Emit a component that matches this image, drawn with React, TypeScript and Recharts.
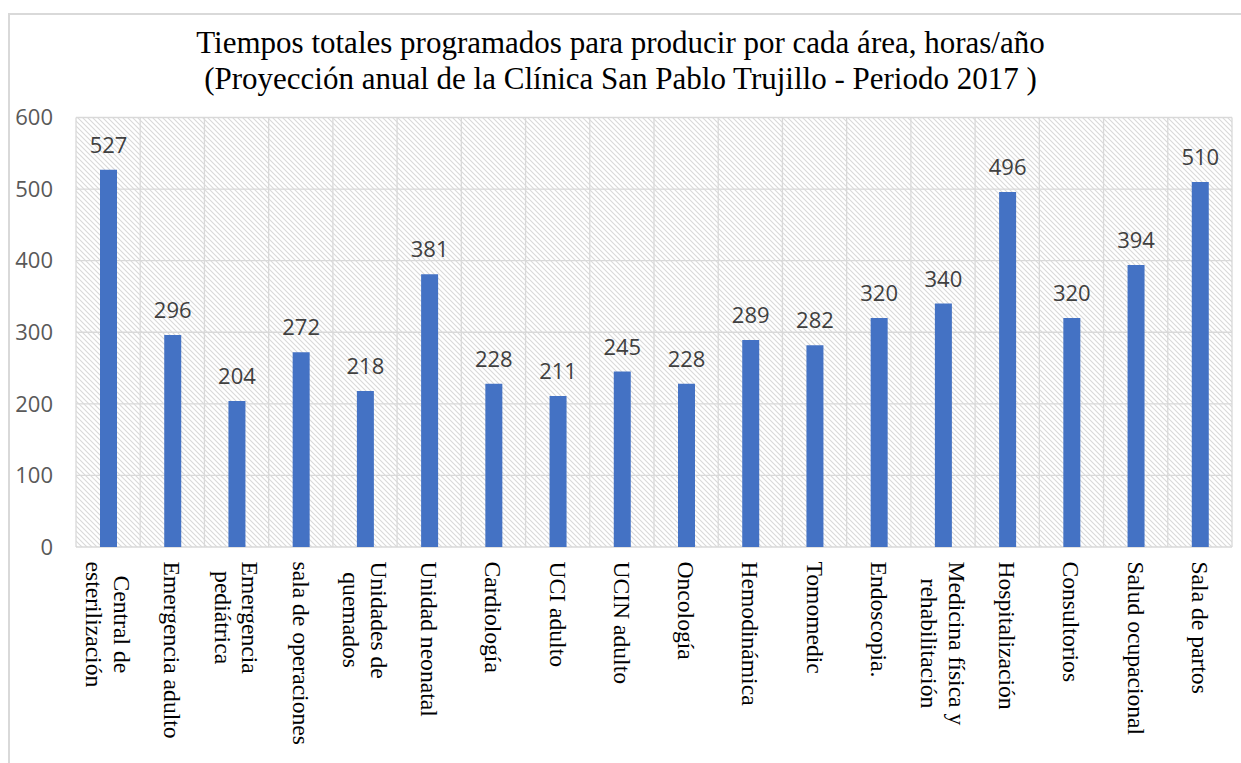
import React from "react";
import { BarChart, Bar, XAxis, YAxis, CartesianGrid, LabelList } from "recharts";

const categories = [
  "Central de\nesterilización",
  "Emergencia adulto",
  "Emergencia\npediátrica",
  "sala de operaciones",
  "Unidades de\nquemados",
  "Unidad neonatal",
  "Cardiología",
  "UCI adulto",
  "UCIN adulto",
  "Oncología",
  "Hemodinámica",
  "Tomomedic",
  "Endoscopia.",
  "Medicina física y\nrehabilitación",
  "Hospitalización",
  "Consultorios",
  "Salud ocupacional",
  "Sala de partos",
];
const hours = [527, 296, 204, 272, 218, 381, 228, 211, 245, 228, 289, 282, 320, 340, 496, 320, 394, 510];
const yTicks = [0, 100, 200, 300, 400, 500, 600];
const titleLines = [
  "Tiempos totales programados para producir por cada área, horas/año",
  "(Proyección anual de la Clínica San Pablo Trujillo - Periodo 2017 )",
];

const data = categories.map((c, i) => ({ name: c, v: hours[i] }));

const SERIF = '"Liberation Serif", "Times New Roman", serif';
const SANS = '"Open Sans", "Noto Sans", sans-serif';
const LABEL_FONT = 23.6;

let ctx: CanvasRenderingContext2D | null = null;
function measure(t: string): number {
  if (!ctx) {
    const c = document.createElement("canvas");
    ctx = c.getContext("2d");
  }
  if (!ctx) return t.length * LABEL_FONT * 0.45;
  ctx.font = `${LABEL_FONT}px "Liberation Serif"`;
  return ctx.measureText(t).width;
}

function XTick(props: any) {
  const { x, y, payload } = props;
  const lines: string[] = String(payload.value).split("\n");
  const maxW = Math.max(...lines.map(measure));
  const cxr = 14.5 + maxW / 2;
  return (
    <g transform={`translate(${x},${y}) rotate(90)`}>
      {lines.map((l, i) => (
        <text
          key={i}
          x={cxr}
          y={8 + (i - (lines.length - 1) / 2) * 27.5}
          textAnchor="middle"
          fontFamily={SERIF}
          fontSize={LABEL_FONT}
          fill="#000"
        >
          {l}
        </text>
      ))}
    </g>
  );
}

const verticalGen = ({ offset }: any) => {
  const n = categories.length;
  const out: number[] = [];
  for (let i = 0; i <= n; i++) out.push(offset.left + (i * offset.width) / n);
  return out;
};

export default function App() {
  return (
    <div style={{ position: "absolute", left: 0, top: 0, width: 1241, height: 763, background: "#fff", overflow: "hidden" }}>
      <svg width={0} height={0} style={{ position: "absolute" }}>
        <defs>
          <pattern id="hatch" width={5} height={5} patternUnits="userSpaceOnUse">
            <rect width={5} height={5} fill="#fff" />
            <path d="M-1,-1 L6,6 M-1,4 L1,6 M4,-1 L6,1" stroke="#d9d9d9" strokeWidth={1.1} />
          </pattern>
        </defs>
      </svg>
      <div
        style={{
          position: "absolute",
          left: 8,
          top: 13,
          width: 1241,
          height: 763,
          borderLeft: "2px solid #d9d9d9",
          borderTop: "2px solid #d9d9d9",
        }}
      />
      <svg width={1241} height={110} style={{ position: "absolute", left: 0, top: 0 }}>
        {titleLines.map((t, i) => (
          <text key={i} x={620.5} y={52.5 + i * 36} textAnchor="middle" fontFamily={SERIF} fontSize={31} fill="#000">
            {t}
          </text>
        ))}
      </svg>
      <div style={{ position: "absolute", left: 0, top: 0 }}>
        <BarChart width={1241} height={763} data={data} margin={{ top: 117.5, right: 9, left: 0, bottom: 0 }}>
          <CartesianGrid
            stroke="#d9d9d9"
            strokeWidth={1.3}
            fill="url(#hatch)"
            fillOpacity={1}
            verticalCoordinatesGenerator={verticalGen}
          />
          <XAxis
            dataKey="name"
            interval={0}
            height={216}
            axisLine={false}
            tickLine={false}
            tickSize={0}
            tickMargin={0}
            tick={<XTick />}
          />
          <YAxis
            width={76}
            domain={[0, 600]}
            ticks={yTicks}
            axisLine={false}
            tickLine={false}
            tickSize={0}
            tickMargin={23}
            tick={{ fill: "#595959", fontSize: 22, fontFamily: SANS }}
          />
          <Bar dataKey="v" fill="#4472C4" barSize={17} isAnimationActive={false}>
            <LabelList dataKey="v" position="top" offset={17} fill="#404040" fontSize={22} fontFamily={SANS} />
          </Bar>
        </BarChart>
      </div>
    </div>
  );
}
